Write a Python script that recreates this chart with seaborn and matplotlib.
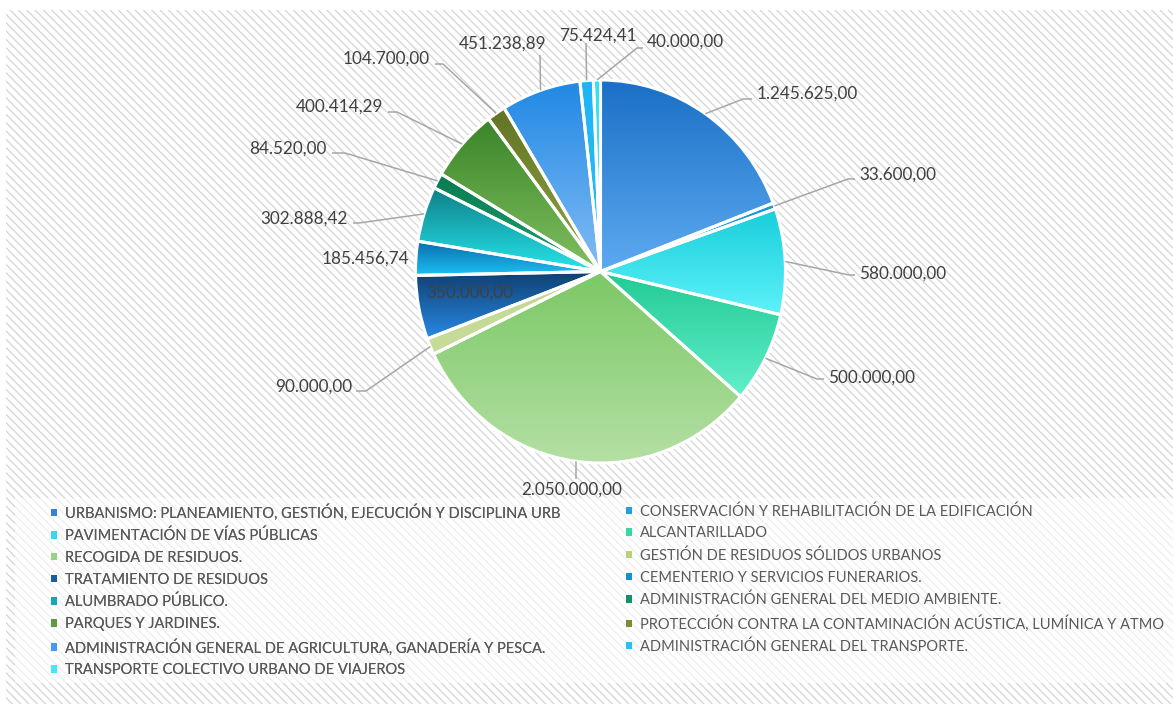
import numpy as np
import matplotlib
matplotlib.use("Agg")
import matplotlib.pyplot as plt
from matplotlib.patches import Rectangle, Patch
import seaborn as sns

# ---------------- data ----------------
categories = [
    "URBANISMO: PLANEAMIENTO, GESTIÓN, EJECUCIÓN Y DISCIPLINA URB",
    "CONSERVACIÓN Y REHABILITACIÓN DE LA EDIFICACIÓN",
    "PAVIMENTACIÓN DE VÍAS PÚBLICAS",
    "ALCANTARILLADO",
    "RECOGIDA DE RESIDUOS.",
    "GESTIÓN DE RESIDUOS SÓLIDOS URBANOS",
    "TRATAMIENTO DE RESIDUOS",
    "CEMENTERIO Y SERVICIOS FUNERARIOS.",
    "ALUMBRADO PÚBLICO.",
    "ADMINISTRACIÓN GENERAL DEL MEDIO AMBIENTE.",
    "PARQUES Y JARDINES.",
    "PROTECCIÓN CONTRA LA CONTAMINACIÓN ACÚSTICA, LUMÍNICA Y ATMO",
    "ADMINISTRACIÓN GENERAL DE AGRICULTURA, GANADERÍA Y PESCA.",
    "ADMINISTRACIÓN GENERAL DEL TRANSPORTE.",
    "TRANSPORTE COLECTIVO URBANO DE VIAJEROS",
]
values = [1245625.00, 33600.00, 580000.00, 500000.00, 2050000.00, 90000.00,
          350000.00, 185456.74, 302888.42, 84520.00, 400414.29, 104700.00,
          451238.89, 75424.41, 40000.00]

# gradient colours per slice (top -> bottom) and legend swatch colours
top_colors = ["#1a6fc6", "#1a98de", "#18cedb", "#22ca94", "#7bc865", "#c2d892",
              "#0e3f70", "#0a69a8", "#0e7f88", "#0a7a50", "#3a8428", "#627224",
              "#2088e4", "#1fb4f6", "#2fe2f2"]
bottom_colors = ["#5caaf0", "#22a4e6", "#5ef2fa", "#62f0cc", "#b4e0a4", "#c8dc9a",
                 "#2a8ae6", "#1cc0f4", "#26e4ea", "#20a272", "#80c060", "#94a844",
                 "#82bcf4", "#28c0fa", "#40e8f6"]
legend_colors = ["#3a80d8", "#22a0e0", "#30dce8", "#36d8a8", "#98d488", "#b8d27c",
                 "#1a5ca0", "#1490cc", "#16a8b0", "#16906a", "#5c9a44", "#7a8c34",
                 "#4898ec", "#28c0f8", "#44e8f4"]


def es_fmt(v):
    s = f"{v:,.2f}"
    return s.replace(",", "X").replace(".", ",").replace("X", ".")


value_labels = [es_fmt(v) for v in values]

# label layout in pixels: (x, y, ha, leader points from text side)
label_layout = [
    (757, 94, "left", [(752, 99), (743, 99)]),
    (859, 175, "left", [(855, 179), (848, 179)]),
    (859, 274, "left", [(855, 275), (849, 275)]),
    (828, 378, "left", [(824, 379), (817, 379)]),
    (572, 490, "center", [(576, 479)]),
    (352, 387, "right", [(356, 391), (366, 391)]),
    (470, 293, "center", None),
    (409, 259, "right", None),
    (348, 219, "right", [(353, 223), (359, 223)]),
    (327, 149, "right", [(332, 153), (345, 153)]),
    (383, 107, "right", [(388, 112), (397, 112)]),
    (430, 59, "right", [(435, 64), (443, 64)]),
    (503, 44, "center", [(540, 55)]),
    (598, 36, "center", [(586, 43)]),
    (647, 42, "left", [(643, 48), (637, 48)]),
]

# ---------------- figure ----------------
sns.set_theme(style="white")
plt.rcParams["font.family"] = ["Lato", "DejaVu Sans"]
plt.rcParams["hatch.color"] = "#d4d4d4"
plt.rcParams["hatch.linewidth"] = 0.9

W, H = 1173, 704
fig = plt.figure(figsize=(W / 100, H / 100), dpi=100)
fig.patch.set_facecolor("white")

bg = fig.add_axes([0, 0, 1, 1], zorder=0)
bg.set_xlim(0, W)
bg.set_ylim(H, 0)
bg.axis("off")
bg.add_patch(Rectangle((6, 10), W - 6, H - 10, facecolor="white",
                       edgecolor="#d4d4d4", hatch="\\\\\\\\", lw=0))
bg.add_patch(Rectangle((15, 498), W - 15, 185, facecolor="white",
                       edgecolor="none", alpha=0.6, lw=0))

cx, cy, rx, ry = 600.5, 271.5, 185, 191.5
ax = fig.add_axes([(cx - rx) / W, (H - cy - ry) / H, 2 * rx / W, 2 * ry / H], zorder=2)
ax.patch.set_visible(False)
wedges, _ = ax.pie(values, startangle=90, counterclock=False, radius=1,
                   wedgeprops=dict(edgecolor="white", linewidth=2.2))

for w, c_top, c_bot in zip(wedges, top_colors, bottom_colors):
    ang = np.linspace(np.deg2rad(w.theta1), np.deg2rad(w.theta2), 200)
    xs = np.concatenate([[0.0], np.cos(ang)])
    ys = np.concatenate([[0.0], np.sin(ang)])
    grad = np.array(sns.blend_palette([c_top, c_bot], n_colors=256))[:, None, :]
    im = ax.imshow(grad, extent=[xs.min(), xs.max(), ys.min(), ys.max()],
                   origin="upper", aspect="auto", interpolation="bilinear", zorder=1)
    im.set_clip_path(w)
    w.set_facecolor("none")
    w.set_zorder(2)
    w.set_clip_on(False)

ax.set_xlim(-1, 1)
ax.set_ylim(-1, 1)
ax.set_aspect("auto")
ax.axis("off")

# overlay for labels and leader lines
ov = fig.add_axes([0, 0, 1, 1], zorder=5)
ov.set_xlim(0, W)
ov.set_ylim(H, 0)
ov.axis("off")
ov.patch.set_visible(False)

for w, lab, (tx, ty, ha, pts) in zip(wedges, value_labels, label_layout):
    if pts is not None:
        m = np.deg2rad((w.theta1 + w.theta2) / 2)
        dx, dy = ax.transData.transform((np.cos(m), np.sin(m)))
        path = list(pts) + [(dx, H - dy)]
        ov.plot([p[0] for p in path], [p[1] for p in path], color="#a6a6a6", lw=1.1,
                solid_capstyle="butt")
    ov.text(tx, ty, lab, ha=ha, va="center", fontsize=12.3, color="#404040")

# legend (two columns, row-major order)
handles = [Patch(facecolor=c, edgecolor="none") for c in legend_colors]
common = dict(loc="upper left", frameon=False, fontsize=10.5, handlelength=0.42,
              handleheight=0.42, handletextpad=0.55, labelspacing=0.54,
              borderpad=0, borderaxespad=0, labelcolor="#595959")
leg1 = fig.legend(handles[0::2], categories[0::2],
                  bbox_to_anchor=(51 / W, 1 - 504 / H), **common)
fig.add_artist(leg1)
leg2 = fig.legend(handles[1::2], categories[1::2],
                  bbox_to_anchor=(626 / W, 1 - 504 / H), **common)

fig.savefig("out.png", dpi=100)
